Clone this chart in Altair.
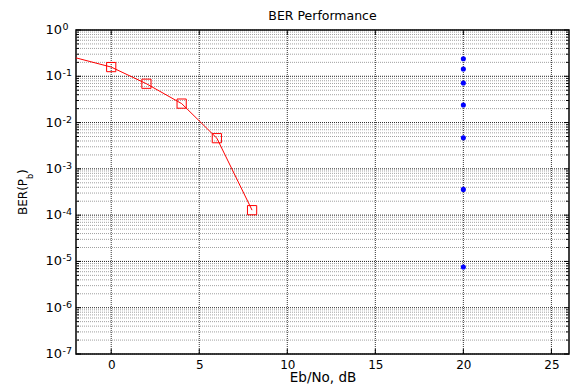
import altair as alt
import pandas as pd

# ---- data ----
line_x = [-2, 0, 2, 4, 6, 8]
line_y = [0.25, 0.158, 0.069, 0.0257, 0.0046, 1.28e-4]
sim_x = [0, 2, 4, 6, 8]
sim_y = [0.158, 0.069, 0.0257, 0.0046, 1.28e-4]
blue_x = [20, 20, 20, 20, 20, 20, 20]
blue_y = [0.24, 0.144, 0.0716, 0.024, 0.0047, 3.6e-4, 7.6e-6]

x_ticks = [0, 5, 10, 15, 20, 25]
y_exponents = [0, -1, -2, -3, -4, -5, -6, -7]
y_sup = ["0", "-1", "-2", "-3", "-4", "-5", "-6", "-7"]
minor_mult = [2, 3, 4, 5, 6, 7, 8, 9]

FONT = "DejaVu Sans"
W, H = 493, 324

xscale = alt.Scale(domain=[-2, 26], nice=False, zero=False)
yscale = alt.Scale(type="log", domain=[1e-7, 1], nice=False)
xaxis = alt.Axis(values=x_ticks, grid=False, ticks=False, tickSize=0, domain=False,
                 labelFont=FONT, labelFontSize=12, labelColor="black", labelPadding=5,
                 title="Eb/No, dB", titleFont=FONT, titleFontSize=13.5,
                 titleFontWeight="normal", titleColor="black", titlePadding=0)

major_df = pd.DataFrame({"e": y_exponents, "sup": y_sup})
minor_df = pd.DataFrame({"e": [e for e in y_exponents[:-1] for _ in minor_mult],
                         "m": [m for _ in y_exponents[:-1] for m in minor_mult]})

Y = lambda f: alt.Y(f, type="quantitative", scale=yscale, axis=None)
X = lambda f: alt.X(f, type="quantitative", scale=xscale, axis=xaxis)

minor_base = alt.Chart(minor_df).transform_calculate(v="datum.m * pow(10, datum.e - 1)")
major_base = alt.Chart(major_df).transform_calculate(v="pow(10, datum.e)")

minor_grid = minor_base.mark_rule(color="#a0a0a0", strokeDash=[1, 1], strokeWidth=1).encode(y=Y("v"))
major_grid = major_base.mark_rule(color="#222222", strokeDash=[1, 1], strokeWidth=1).encode(y=Y("v"))
xgrid = alt.Chart(pd.DataFrame({"x": x_ticks})).mark_rule(
    color="#333333", strokeDash=[1, 1], strokeWidth=1).encode(x=X("x"))

ticks_l_minor = minor_base.mark_rule(color="black").encode(y=Y("v"), x=alt.value(0), x2=alt.value(3))
ticks_r_minor = minor_base.mark_rule(color="black").encode(y=Y("v"), x=alt.value(W - 3), x2=alt.value(W))
ticks_l_major = major_base.mark_rule(color="black").encode(y=Y("v"), x=alt.value(0), x2=alt.value(5))
ticks_r_major = major_base.mark_rule(color="black").encode(y=Y("v"), x=alt.value(W - 5), x2=alt.value(W))
xt = alt.Chart(pd.DataFrame({"x": x_ticks}))
ticks_b = xt.mark_rule(color="black").encode(x=X("x"), y=alt.value(H - 5), y2=alt.value(H))
ticks_t = xt.mark_rule(color="black").encode(x=X("x"), y=alt.value(0), y2=alt.value(5))

red_line = alt.Chart(pd.DataFrame({"x": line_x, "y": line_y})).mark_line(
    color="#ff0000", strokeWidth=1).encode(x=X("x"), y=Y("y"))
red_sq = alt.Chart(pd.DataFrame({"x": sim_x, "y": sim_y})).mark_point(
    shape="square", size=85, filled=False, color="#ff0000", strokeWidth=1, opacity=1).encode(x=X("x"), y=Y("y"))
blue_pts = alt.Chart(pd.DataFrame({"x": blue_x, "y": blue_y})).mark_point(
    shape="circle", size=26, filled=True, color="#0000ff", opacity=1).encode(x=X("x"), y=Y("y"))

ylab10 = major_base.mark_text(align="right", baseline="middle", font=FONT, fontSize=13,
                              color="black").encode(y=Y("v"), x=alt.value(-14), text=alt.value("10"))
ylabsup = major_base.mark_text(align="left", baseline="alphabetic", font=FONT, fontSize=9.5,
                               color="black").encode(y=Y("v"), x=alt.value(-13.5), text="sup:N")

one = alt.Data(values=[{"a": 1}])
t1 = alt.Chart(one).mark_text(angle=270, align="left", baseline="alphabetic", font=FONT,
                              fontSize=12, color="black").encode(x=alt.value(-49), y=alt.value(185), text=alt.value("BER(P"))
t2 = alt.Chart(one).mark_text(angle=270, align="left", baseline="alphabetic", font=FONT,
                              fontSize=8, color="black").encode(x=alt.value(-43), y=alt.value(149), text=alt.value("b"))
t3 = alt.Chart(one).mark_text(angle=270, align="left", baseline="alphabetic", font=FONT,
                              fontSize=12, color="black").encode(x=alt.value(-49), y=alt.value(144), text=alt.value(")"))

chart = alt.layer(
    minor_grid, major_grid, xgrid,
    ticks_l_minor, ticks_r_minor, ticks_l_major, ticks_r_major, ticks_b, ticks_t,
    red_line, red_sq, blue_pts, ylab10, ylabsup, t1, t2, t3
).properties(
    width=W, height=H,
    title=alt.TitleParams("BER Performance", font=FONT, fontSize=12.5, fontWeight="normal",
                          color="black", offset=0),
    autosize=alt.AutoSizeParams(type="none"),
    padding={"left": 76, "top": 30, "right": 2, "bottom": 35},
    background="white",
).configure_view(stroke="black", strokeWidth=1.5)

chart.save("out.html", embed_options={"renderer": "svg", "actions": False})
